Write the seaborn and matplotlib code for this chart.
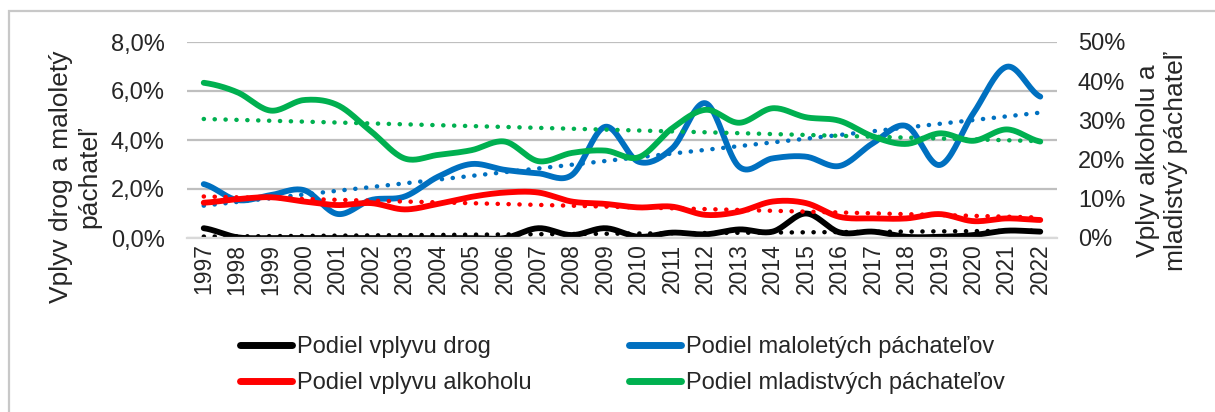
import numpy as np
import pandas as pd
import matplotlib
matplotlib.use("Agg")
import matplotlib.pyplot as plt
from matplotlib.ticker import FuncFormatter, FixedLocator
from matplotlib.lines import Line2D
from matplotlib.patches import Rectangle
import seaborn as sns

# ---------------- data ----------------
years = [str(y) for y in range(1997, 2023)]
drogy = [0.40, 0.03, 0.00, 0.00, 0.00, 0.00, 0.00, 0.00, 0.00, 0.00, 0.40, 0.12, 0.40,
         0.05, 0.22, 0.15, 0.35, 0.26, 1.00, 0.23, 0.26, 0.05, 0.05, 0.12, 0.30, 0.26]
maloleti = [2.20, 1.55, 1.75, 1.95, 0.98, 1.55, 1.69, 2.50, 3.02, 2.78, 2.64, 2.57, 4.54,
            3.11, 3.66, 5.50, 2.91, 3.25, 3.32, 2.94, 3.87, 4.57, 2.98, 5.09, 6.99, 5.77]
alkohol = [9.0, 9.9, 10.4, 9.3, 8.4, 8.9, 7.3, 8.7, 10.5, 11.6, 11.6, 9.3, 8.7,
           7.8, 8.0, 5.9, 6.7, 9.3, 8.9, 5.4, 5.0, 5.0, 6.1, 4.3, 5.0, 4.6]
mladistvi = [39.6, 37.2, 32.5, 35.2, 33.9, 27.2, 20.3, 21.2, 22.4, 24.6, 19.6, 21.7, 22.3,
             20.6, 28.0, 32.7, 29.4, 33.1, 30.8, 29.9, 25.9, 24.0, 26.7, 24.8, 27.7, 24.6]

labels = ["Podiel vplyvu drog", "Podiel vplyvu alkoholu",
          "Podiel maloletých páchateľov", "Podiel mladistvých páchateľov"]
left_ticks = [0, 2, 4, 6, 8]
right_ticks = [0, 10, 20, 30, 40, 50]
left_title = "Vplyv drog a maloletý\npáchateľ"
right_title = "Vplyv alkoholu a\nmladistvý páchateľ"

C_BLACK, C_BLUE, C_RED, C_GREEN = "#000000", "#0070C0", "#FF0000", "#00B050"


def smooth(vals, n=20):
    """Catmull-Rom smoothing used only for drawing the curve (like Excel's smoothed line)."""
    p = np.asarray(vals, float)
    P = np.concatenate([[p[0]], p, [p[-1]]])
    xs, ys = [], []
    t = np.linspace(0, 1, n, endpoint=False)
    for i in range(len(p) - 1):
        p0, p1, p2, p3 = P[i], P[i + 1], P[i + 2], P[i + 3]
        y = 0.5 * ((2 * p1) + (-p0 + p2) * t + (2 * p0 - 5 * p1 + 4 * p2 - p3) * t ** 2
                   + (-p0 + 3 * p1 - 3 * p2 + p3) * t ** 3)
        xs.extend(i + t)
        ys.extend(y)
    xs.append(len(p) - 1)
    ys.append(p[-1])
    return pd.DataFrame({"x": xs, "y": ys})


def trend(vals):
    idx = np.arange(len(vals))
    k, q = np.polyfit(idx, vals, 1)
    return pd.DataFrame({"x": idx, "y": k * idx + q})


sns.set_style("white")
plt.rcParams["font.family"] = ["Liberation Sans", "DejaVu Sans"]

W, H = 1215, 412
fig = plt.figure(figsize=(W / 100, H / 100), dpi=100)
ax = fig.add_axes([187 / W, 1 - 238 / H, 870 / W, 196 / H])
ax2 = ax.twinx()

LW = 4.2
DOT = dict(linestyle=(0, (0.05, 2.4)), lw=3.2, dash_capstyle="round")

# left axis series
for vals, col in [(drogy, C_BLACK), (maloleti, C_BLUE)]:
    tr = trend(vals)
    sns.lineplot(data=tr, x="x", y="y", ax=ax, color=col, **DOT)
    sm = smooth(vals)
    sns.lineplot(data=sm, x="x", y="y", ax=ax, color=col, lw=LW, sort=False,
                 solid_capstyle="round", solid_joinstyle="round")

# right axis series
for vals, col in [(alkohol, C_RED), (mladistvi, C_GREEN)]:
    tr = trend(vals)
    sns.lineplot(data=tr, x="x", y="y", ax=ax2, color=col, **DOT)
    sm = smooth(vals)
    sns.lineplot(data=sm, x="x", y="y", ax=ax2, color=col, lw=LW, sort=False,
                 solid_capstyle="round", solid_joinstyle="round")

ax.set_xlim(-0.5, len(years) - 0.5)
ax.set_ylim(0, 8)
ax2.set_ylim(0, 50)

ax.xaxis.set_major_locator(FixedLocator(range(len(years))))
ax.set_xticklabels(years, rotation=90, fontsize=16.5)
ax.yaxis.set_major_locator(FixedLocator(left_ticks))
ax.yaxis.set_major_formatter(FuncFormatter(lambda v, p: f"{v:.1f}%".replace(".", ",")))
ax2.yaxis.set_major_locator(FixedLocator(right_ticks))
ax2.yaxis.set_major_formatter(FuncFormatter(lambda v, p: f"{v:.0f}%"))

ax.tick_params(axis="y", length=0, pad=16, labelsize=17)
ax.tick_params(axis="x", length=0, pad=4)
ax2.tick_params(axis="y", length=0, pad=15, labelsize=17)

ax.grid(axis="y", color="#BFBFBF", lw=1.6)
ax.grid(axis="x", visible=False)
ax2.grid(False)
ax.set_axisbelow(True)
for a in (ax, ax2):
    for s in a.spines.values():
        s.set_visible(False)
ax.spines["bottom"].set_visible(True)
ax.spines["bottom"].set_color("#D9D9D9")
ax.spines["bottom"].set_linewidth(1.6)

ax.set_xlabel("")
ax.set_ylabel(left_title, fontsize=19, linespacing=1.2)
ax.yaxis.set_label_coords((101 - 187) / 870, (238 - 177) / 196)
ax2.set_ylabel(right_title, fontsize=19, linespacing=1.2)
ax2.yaxis.set_label_coords((1136 - 187) / 870, (238 - 161) / 196)

handles = [Line2D([], [], color=c, lw=5, solid_capstyle="round")
           for c in (C_BLACK, C_RED, C_BLUE, C_GREEN)]
fig.legend(handles, labels, ncol=2, loc="upper left",
           bbox_to_anchor=(240 / W, 1 - 336 / H), frameon=False, fontsize=17,
           handlelength=2.2, handletextpad=0.2, columnspacing=4.15,
           labelspacing=0.6, borderpad=0, borderaxespad=0)

# outer chart frame
fig.patches.append(Rectangle((9 / W, -0.05), 1.2, 1 - 11 / H + 0.05,
                             transform=fig.transFigure, fill=False,
                             edgecolor="#C8C8C8", lw=1.6))

fig.savefig("out.png", dpi=100)
